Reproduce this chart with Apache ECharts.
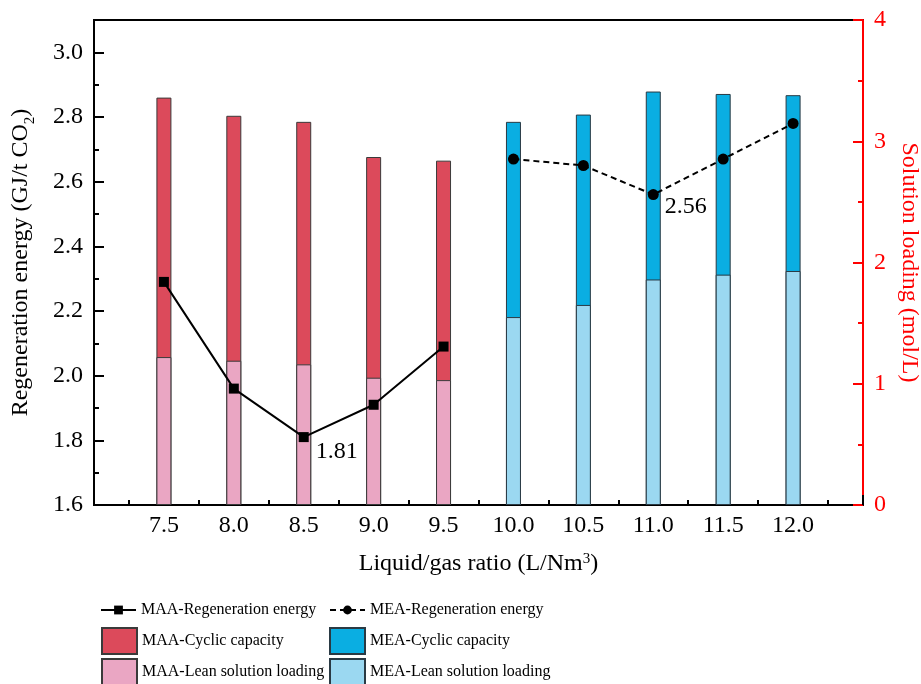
<!DOCTYPE html>
<html>
<head>
<meta charset="utf-8">
<script src="https://cdn.jsdelivr.net/npm/echarts@6/dist/echarts.min.js"></script>
<style>
html,body{margin:0;padding:0;background:#fff;}
#chart{width:921px;height:684px;}
</style>
</head>
<body>
<div id="chart"></div>
<script>
// ---- data ----
const maaRatio = [7.5, 8.0, 8.5, 9.0, 9.5];
const meaRatio = [10.0, 10.5, 11.0, 11.5, 12.0];
const maaRegen = [2.29, 1.96, 1.81, 1.91, 2.09];
const meaRegen = [2.67, 2.65, 2.56, 2.67, 2.78];
const maaLean = [1.22, 1.19, 1.16, 1.05, 1.03];
const maaCyclic = [2.14, 2.02, 2.00, 1.82, 1.81];
const meaLean = [1.55, 1.65, 1.86, 1.90, 1.93];
const meaCyclic = [1.61, 1.57, 1.55, 1.49, 1.45];
const xTickLabels = ['7.5','8.0','8.5','9.0','9.5','10.0','10.5','11.0','11.5','12.0'];
const annotated = {maa: 1.81, mea: 2.56};

const FONT = 'Liberation Serif';
const zip = (xs, ys) => xs.map((x, i) => [x, ys[i]]);
// cyclic capacity sits on top of the lean loading: its bar spans 0..(lean+cyclic), lean bar drawn over it
const zipTop = (xs, lean, cyc) => xs.map((x, i) => [x, +(lean[i] + cyc[i]).toFixed(3)]);
const labelFor = v => {
  const s = v.toFixed(1);
  return xTickLabels.indexOf(s) >= 0 ? s : '';
};

const chart = echarts.init(document.getElementById('chart'));
const barCommon = {type: 'bar', xAxisIndex: 0, yAxisIndex: 1, barWidth: 15, barGap: '-100%'};
const legendCommon = {padding: 0, itemWidth: 35, textStyle: {fontFamily: FONT, fontSize: 16, color: '#000'}, selectedMode: false};
const lg = (left, top, h, name, icon) => Object.assign({}, legendCommon, {left: left, top: top, itemHeight: h,
  data: [icon ? {name: name, icon: icon} : name]});

const option = {
  animation: false,
  textStyle: {fontFamily: FONT},
  grid: {left: 94, right: 58, top: 20, bottom: 179, show: true, borderColor: '#000', borderWidth: 2,
         containLabel: false, outerBoundsMode: 'none'},
  xAxis: [{
    type: 'value', min: 7.0, max: 12.5, interval: 0.5,
    name: '{a|Liquid/gas ratio (L/Nm}{c|3}{a|)}', nameLocation: 'middle', nameGap: 47,
    nameTextStyle: {rich: {
      a: {fontFamily: FONT, fontSize: 24, color: '#000', lineHeight: 28, verticalAlign: 'top'},
      c: {fontFamily: FONT, fontSize: 15, color: '#000', lineHeight: 16, verticalAlign: 'top'}
    }},
    axisLine: {lineStyle: {color: '#000', width: 2}},
    axisTick: {inside: true, length: 10, lineStyle: {color: '#000', width: 2}},
    minorTick: {show: true, splitNumber: 2, length: 5, lineStyle: {color: '#000', width: 2}},
    splitLine: {show: false},
    axisLabel: {fontFamily: FONT, fontSize: 24, color: '#000', margin: 9, formatter: labelFor}
  }],
  yAxis: [{
    type: 'value', position: 'left', min: 1.6, max: 3.1, interval: 0.2,
    name: '{a|Regeneration energy (GJ/t CO}{b|2}{a|)}', nameLocation: 'middle', nameGap: 57,
    nameTextStyle: {rich: {
      a: {fontFamily: FONT, fontSize: 24, color: '#000', lineHeight: 28, verticalAlign: 'top'},
      b: {fontFamily: FONT, fontSize: 15, color: '#000', lineHeight: 16, verticalAlign: 'top', padding: [14, 0, 0, 0]}
    }},
    axisLine: {show: true, lineStyle: {color: '#000', width: 2}},
    axisTick: {show: true, inside: true, length: 10, lineStyle: {color: '#000', width: 2}},
    splitLine: {show: false},
    axisLabel: {fontFamily: FONT, fontSize: 24, color: '#000', margin: 11, showMaxLabel: false, formatter: v => v.toFixed(1)}
  }, {
    type: 'value', position: 'right', min: 0, max: 4, interval: 1,
    name: 'Solution loading (mol/L)', nameLocation: 'middle', nameGap: 30, nameRotate: -90,
    nameTextStyle: {fontFamily: FONT, fontSize: 24, color: '#ff0000'},
    axisLine: {show: true, lineStyle: {color: '#ff0000', width: 2}},
    axisTick: {show: true, inside: true, length: 10, lineStyle: {color: '#ff0000', width: 2}},
    minorTick: {show: true, splitNumber: 2, length: 5, lineStyle: {color: '#ff0000', width: 2}},
    splitLine: {show: false},
    axisLabel: {fontFamily: FONT, fontSize: 24, color: '#ff0000', margin: 11}
  }, {
    type: 'value', position: 'left', min: 1.6, max: 3.1, interval: 0.1,
    axisLine: {show: false},
    axisTick: {show: true, inside: true, length: 5, lineStyle: {color: '#000', width: 2}},
    axisLabel: {show: false},
    splitLine: {show: false}
  }],
  legend: [
    lg(100, 602, 11, 'MAA-Regeneration energy'),
    lg(329, 602, 11, 'MEA-Regeneration energy'),
    lg(101, 627, 26, 'MAA-Cyclic capacity', 'rect'),
    lg(101, 658, 26, 'MAA-Lean solution loading', 'rect'),
    lg(329, 627, 26, 'MEA-Cyclic capacity', 'rect'),
    lg(329, 658, 26, 'MEA-Lean solution loading', 'rect')
  ],
  series: [
    Object.assign({}, barCommon, {name: 'MAA-Cyclic capacity', data: zipTop(maaRatio, maaLean, maaCyclic),
      itemStyle: {color: '#DC4A5B', borderColor: '#3a3a3a', borderWidth: 1}}),
    Object.assign({}, barCommon, {name: 'MAA-Lean solution loading', data: zip(maaRatio, maaLean),
      itemStyle: {color: '#EAA6C3', borderColor: '#3a3a3a', borderWidth: 1}}),
    Object.assign({}, barCommon, {name: 'MEA-Cyclic capacity', data: zipTop(meaRatio, meaLean, meaCyclic),
      itemStyle: {color: '#0AAEE2', borderColor: '#2a3a44', borderWidth: 1}}),
    Object.assign({}, barCommon, {name: 'MEA-Lean solution loading', data: zip(meaRatio, meaLean),
      itemStyle: {color: '#9BD8F1', borderColor: '#2a3a44', borderWidth: 1}}),
    {
      name: 'MAA-Regeneration energy', type: 'line', xAxisIndex: 0, yAxisIndex: 0, z: 5,
      symbol: 'rect', symbolSize: 10, color: '#000',
      lineStyle: {color: '#000', width: 2}, itemStyle: {color: '#000'},
      data: maaRatio.map((x, i) => {
        const d = {value: [x, maaRegen[i]]};
        if (maaRegen[i] === annotated.maa) d.label = {show: true, position: 'right', distance: 5, offset: [2, 15], formatter: annotated.maa.toFixed(2), fontFamily: FONT, fontSize: 24, color: '#000'};
        return d;
      })
    },
    {
      name: 'MEA-Regeneration energy', type: 'line', xAxisIndex: 0, yAxisIndex: 0, z: 5,
      symbol: 'circle', symbolSize: 11, color: '#000',
      lineStyle: {color: '#000', width: 2, type: [6, 4]}, itemStyle: {color: '#000'},
      data: meaRatio.map((x, i) => {
        const d = {value: [x, meaRegen[i]]};
        if (meaRegen[i] === annotated.mea) d.label = {show: true, position: 'right', distance: 5, offset: [1, 12], formatter: annotated.mea.toFixed(2), fontFamily: FONT, fontSize: 24, color: '#000'};
        return d;
      })
    }
  ]
};
chart.setOption(option);
</script>
</body>
</html>
